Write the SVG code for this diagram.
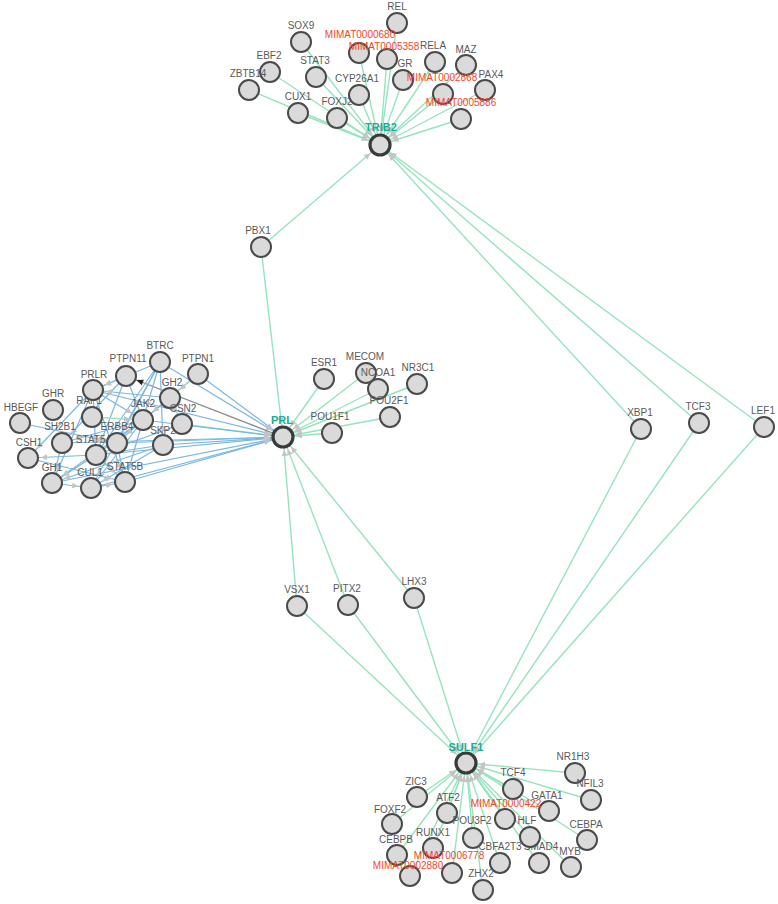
<svg xmlns="http://www.w3.org/2000/svg" width="778" height="904" viewBox="0 0 778 904">
<style>
.e{stroke:#96e4bd;stroke-width:1.4;fill:none;marker-end:url(#ag)}
.b{stroke:#7ab8e0;stroke-width:1.2;fill:none;marker-end:url(#ag)}
.g{stroke:#8c8c8c;stroke-width:1.3;fill:none;marker-end:url(#ad)}
.n circle{fill:#dadada;stroke:#4a4a4a;stroke-width:2}
.h circle{fill:#dadada;stroke:#3a3a3a;stroke-width:3.2}
text{font-family:"Liberation Sans",Arial,sans-serif;font-size:10px;fill:#5a5a5a;text-anchor:middle}
.r text{fill:#f0462a}
.h text{fill:#17b096;font-weight:bold;font-size:11px}
</style>
<defs>
<marker id="ag" markerUnits="userSpaceOnUse" viewBox="-24 -6 24 12" markerWidth="24" markerHeight="12" refX="0" refY="0" orient="auto"><path d="M-19,-3 L-13,0 L-19,3 z" fill="#c4c4c4"/></marker>
<marker id="ad" markerUnits="userSpaceOnUse" viewBox="-24 -6 24 12" markerWidth="24" markerHeight="12" refX="0" refY="0" orient="auto"><path d="M-18,-3 L-11,0 L-18,3 z" fill="#222"/></marker>
</defs>
<g id="connectors">
<line class="e" x1="301" y1="42" x2="380" y2="145"/>
<line class="e" x1="270" y1="72" x2="380" y2="145"/>
<line class="e" x1="249" y1="90" x2="380" y2="145"/>
<line class="e" x1="316" y1="77" x2="380" y2="145"/>
<line class="e" x1="298" y1="113" x2="380" y2="145"/>
<line class="e" x1="337" y1="118" x2="380" y2="145"/>
<line class="e" x1="359" y1="95" x2="380" y2="145"/>
<line class="e" x1="359" y1="53" x2="380" y2="145"/>
<line class="e" x1="387" y1="59" x2="380" y2="145"/>
<line class="e" x1="397" y1="23" x2="380" y2="145"/>
<line class="e" x1="403" y1="80" x2="380" y2="145"/>
<line class="e" x1="435" y1="62" x2="380" y2="145"/>
<line class="e" x1="466" y1="65" x2="380" y2="145"/>
<line class="e" x1="443" y1="94" x2="380" y2="145"/>
<line class="e" x1="485" y1="90" x2="380" y2="145"/>
<line class="e" x1="461" y1="119" x2="380" y2="145"/>
<line class="e" x1="261" y1="247" x2="380" y2="145"/>
<line class="e" x1="641" y1="429" x2="380" y2="145"/>
<line class="e" x1="699" y1="423" x2="380" y2="145"/>
<line class="e" x1="764" y1="427" x2="380" y2="145"/>
<line class="e" x1="261" y1="247" x2="283" y2="437"/>
<line class="e" x1="324" y1="379" x2="283" y2="437"/>
<line class="e" x1="366" y1="373" x2="283" y2="437"/>
<line class="e" x1="378" y1="389" x2="283" y2="437"/>
<line class="e" x1="417" y1="384" x2="283" y2="437"/>
<line class="e" x1="390" y1="417" x2="283" y2="437"/>
<line class="e" x1="332" y1="433" x2="283" y2="437"/>
<line class="e" x1="297" y1="606" x2="283" y2="437"/>
<line class="e" x1="348" y1="605" x2="283" y2="437"/>
<line class="e" x1="414" y1="598" x2="283" y2="437"/>
<line class="e" x1="182" y1="424" x2="283" y2="437"/>
<line class="b" x1="198" y1="374" x2="283" y2="437"/>
<line class="b" x1="160" y1="362" x2="283" y2="437"/>
<line class="b" x1="93" y1="390" x2="283" y2="437"/>
<line class="b" x1="143" y1="420" x2="283" y2="437"/>
<line class="b" x1="163" y1="445" x2="283" y2="437"/>
<line class="b" x1="117" y1="443" x2="283" y2="437"/>
<line class="b" x1="96" y1="455" x2="283" y2="437"/>
<line class="b" x1="125" y1="482" x2="283" y2="437"/>
<line class="b" x1="62" y1="443" x2="283" y2="437"/>
<line class="b" x1="91" y1="488" x2="283" y2="437"/>
<line class="b" x1="52" y1="483" x2="283" y2="437"/>
<line class="g" x1="283" y1="437" x2="126" y2="376"/>
<line class="b" x1="126" y1="376" x2="93" y2="390"/>
<line class="b" x1="126" y1="376" x2="143" y2="420"/>
<line class="b" x1="126" y1="376" x2="96" y2="455"/>
<line class="b" x1="126" y1="376" x2="62" y2="443"/>
<line class="b" x1="160" y1="362" x2="93" y2="390"/>
<line class="b" x1="160" y1="362" x2="143" y2="420"/>
<line class="b" x1="160" y1="362" x2="96" y2="455"/>
<line class="b" x1="160" y1="362" x2="163" y2="445"/>
<line class="b" x1="160" y1="362" x2="91" y2="488"/>
<line class="b" x1="160" y1="362" x2="117" y2="443"/>
<line class="b" x1="93" y1="390" x2="143" y2="420"/>
<line class="b" x1="93" y1="390" x2="96" y2="455"/>
<line class="b" x1="93" y1="390" x2="125" y2="482"/>
<line class="b" x1="93" y1="390" x2="52" y2="483"/>
<line class="b" x1="93" y1="390" x2="28" y2="458"/>
<line class="b" x1="143" y1="420" x2="96" y2="455"/>
<line class="b" x1="143" y1="420" x2="125" y2="482"/>
<line class="b" x1="143" y1="420" x2="62" y2="443"/>
<line class="b" x1="143" y1="420" x2="52" y2="483"/>
<line class="b" x1="143" y1="420" x2="117" y2="443"/>
<line class="b" x1="143" y1="420" x2="91" y2="488"/>
<line class="b" x1="170" y1="398" x2="143" y2="420"/>
<line class="b" x1="170" y1="398" x2="93" y2="390"/>
<line class="b" x1="163" y1="445" x2="91" y2="488"/>
<line class="b" x1="163" y1="445" x2="96" y2="455"/>
<line class="b" x1="163" y1="445" x2="52" y2="483"/>
<line class="b" x1="96" y1="455" x2="125" y2="482"/>
<line class="b" x1="96" y1="455" x2="52" y2="483"/>
<line class="b" x1="96" y1="455" x2="28" y2="458"/>
<line class="b" x1="62" y1="443" x2="52" y2="483"/>
<line class="b" x1="20" y1="423" x2="117" y2="443"/>
<line class="b" x1="117" y1="443" x2="125" y2="482"/>
<line class="b" x1="28" y1="458" x2="125" y2="482"/>
<line class="b" x1="52" y1="483" x2="91" y2="488"/>
<line class="b" x1="91" y1="488" x2="125" y2="482"/>
<line class="b" x1="182" y1="424" x2="96" y2="455"/>
<line class="b" x1="198" y1="374" x2="143" y2="420"/>
<line class="e" x1="198" y1="374" x2="170" y2="398"/>
<line class="e" x1="92" y1="417" x2="143" y2="420"/>
<line class="e" x1="170" y1="398" x2="182" y2="424"/>
<line class="e" x1="641" y1="429" x2="466" y2="763"/>
<line class="e" x1="699" y1="423" x2="466" y2="763"/>
<line class="e" x1="764" y1="427" x2="466" y2="763"/>
<line class="e" x1="297" y1="606" x2="466" y2="763"/>
<line class="e" x1="348" y1="605" x2="466" y2="763"/>
<line class="e" x1="414" y1="598" x2="466" y2="763"/>
<line class="e" x1="417" y1="797" x2="466" y2="763"/>
<line class="e" x1="392" y1="824" x2="466" y2="763"/>
<line class="e" x1="447" y1="813" x2="466" y2="763"/>
<line class="e" x1="433" y1="848" x2="466" y2="763"/>
<line class="e" x1="397" y1="855" x2="466" y2="763"/>
<line class="e" x1="410" y1="876" x2="466" y2="763"/>
<line class="e" x1="452" y1="873" x2="466" y2="763"/>
<line class="e" x1="473" y1="838" x2="466" y2="763"/>
<line class="e" x1="505" y1="819" x2="466" y2="763"/>
<line class="e" x1="513" y1="789" x2="466" y2="763"/>
<line class="e" x1="575" y1="773" x2="466" y2="763"/>
<line class="e" x1="591" y1="800" x2="466" y2="763"/>
<line class="e" x1="549" y1="811" x2="466" y2="763"/>
<line class="e" x1="530" y1="837" x2="466" y2="763"/>
<line class="e" x1="587" y1="840" x2="466" y2="763"/>
<line class="e" x1="500" y1="863" x2="466" y2="763"/>
<line class="e" x1="539" y1="863" x2="466" y2="763"/>
<line class="e" x1="571" y1="867" x2="466" y2="763"/>
<line class="e" x1="483" y1="890" x2="466" y2="763"/>
</g>
<g id="nodes">
<g id="n-SOX9" class="n"><circle cx="301" cy="42" r="10"/><text x="301" y="29">SOX9</text></g>
<g id="n-EBF2" class="n"><circle cx="270" cy="72" r="10"/><text x="269" y="59">EBF2</text></g>
<g id="n-ZBTB14" class="n"><circle cx="249" cy="90" r="10"/><text x="248" y="77">ZBTB14</text></g>
<g id="n-STAT3" class="n"><circle cx="316" cy="77" r="10"/><text x="315" y="64">STAT3</text></g>
<g id="n-CUX1" class="n"><circle cx="298" cy="113" r="10"/><text x="298" y="100">CUX1</text></g>
<g id="n-FOXJ2" class="n"><circle cx="337" cy="118" r="10"/><text x="337" y="105">FOXJ2</text></g>
<g id="n-CYP26A1" class="n"><circle cx="359" cy="95" r="10"/><text x="357" y="82">CYP26A1</text></g>
<g id="n-REL" class="n"><circle cx="397" cy="23" r="10"/><text x="397" y="10">REL</text></g>
<g id="n-MIMAT0000680" class="n r"><circle cx="359" cy="53" r="10"/><text x="360" y="38">MIMAT0000680</text></g>
<g id="n-MIMAT0005358" class="n r"><circle cx="387" cy="59" r="10"/><text x="384" y="49.5">MIMAT0005358</text></g>
<g id="n-GR" class="n"><circle cx="403" cy="80" r="10"/><text x="405" y="67">GR</text></g>
<g id="n-RELA" class="n"><circle cx="435" cy="62" r="10"/><text x="433" y="49">RELA</text></g>
<g id="n-MAZ" class="n"><circle cx="466" cy="65" r="10"/><text x="466" y="53">MAZ</text></g>
<g id="n-PAX4" class="n"><circle cx="485" cy="90" r="10"/><text x="491" y="78">PAX4</text></g>
<g id="n-MIMAT0002868" class="n r"><circle cx="443" cy="94" r="10"/><text x="442" y="81">MIMAT0002868</text></g>
<g id="n-MIMAT0005886" class="n r"><circle cx="461" cy="119" r="10"/><text x="461" y="106">MIMAT0005886</text></g>
<g id="n-TRIB2" class="h"><circle cx="380" cy="145" r="10"/><text x="381" y="131">TRIB2</text></g>
<g id="n-PBX1" class="n"><circle cx="261" cy="247" r="10"/><text x="258" y="234">PBX1</text></g>
<g id="n-XBP1" class="n"><circle cx="641" cy="429" r="10"/><text x="640" y="416">XBP1</text></g>
<g id="n-TCF3" class="n"><circle cx="699" cy="423" r="10"/><text x="698" y="410">TCF3</text></g>
<g id="n-LEF1" class="n"><circle cx="764" cy="427" r="10"/><text x="763" y="414">LEF1</text></g>
<g id="n-VSX1" class="n"><circle cx="297" cy="606" r="10"/><text x="297" y="593">VSX1</text></g>
<g id="n-PITX2" class="n"><circle cx="348" cy="605" r="10"/><text x="347" y="592">PITX2</text></g>
<g id="n-LHX3" class="n"><circle cx="414" cy="598" r="10"/><text x="414" y="585">LHX3</text></g>
<g id="n-ESR1" class="n"><circle cx="324" cy="379" r="10"/><text x="324" y="366">ESR1</text></g>
<g id="n-MECOM" class="n"><circle cx="366" cy="373" r="10"/><text x="365" y="360">MECOM</text></g>
<g id="n-NCOA1" class="n"><circle cx="378" cy="389" r="10"/><text x="378" y="376">NCOA1</text></g>
<g id="n-NR3C1" class="n"><circle cx="417" cy="384" r="10"/><text x="418" y="371">NR3C1</text></g>
<g id="n-POU2F1" class="n"><circle cx="390" cy="417" r="10"/><text x="389" y="404">POU2F1</text></g>
<g id="n-POU1F1" class="n"><circle cx="332" cy="433" r="10"/><text x="330" y="420">POU1F1</text></g>
<g id="n-PRL" class="h"><circle cx="283" cy="437" r="10"/><text x="282" y="424">PRL</text></g>
<g id="n-BTRC" class="n"><circle cx="160" cy="362" r="10"/><text x="160" y="349">BTRC</text></g>
<g id="n-PTPN11" class="n"><circle cx="126" cy="376" r="10"/><text x="128" y="362">PTPN11</text></g>
<g id="n-PTPN1" class="n"><circle cx="198" cy="374" r="10"/><text x="198" y="362">PTPN1</text></g>
<g id="n-GHR" class="n"><circle cx="53" cy="410" r="10"/><text x="53" y="397">GHR</text></g>
<g id="n-HBEGF" class="n"><circle cx="20" cy="423" r="10"/><text x="21" y="411">HBEGF</text></g>
<g id="n-RAF1" class="n"><circle cx="92" cy="417" r="10"/><text x="89" y="404">RAF1</text></g>
<g id="n-PRLR" class="n"><circle cx="93" cy="390" r="10"/><text x="94" y="378">PRLR</text></g>
<g id="n-GH2" class="n"><circle cx="170" cy="398" r="10"/><text x="172" y="386">GH2</text></g>
<g id="n-SKP2" class="n"><circle cx="163" cy="445" r="10"/><text x="163" y="434">SKP2</text></g>
<g id="n-CSN2" class="n"><circle cx="182" cy="424" r="10"/><text x="183" y="412">CSN2</text></g>
<g id="n-JAK2" class="n"><circle cx="143" cy="420" r="10"/><text x="143" y="407">JAK2</text></g>
<g id="n-SH2B1" class="n"><circle cx="62" cy="443" r="10"/><text x="60" y="430">SH2B1</text></g>
<g id="n-CSH1" class="n"><circle cx="28" cy="458" r="10"/><text x="29" y="446">CSH1</text></g>
<g id="n-STAT5A" class="n"><circle cx="96" cy="455" r="10"/><text x="94" y="443">STAT5A</text></g>
<g id="n-ERBB4" class="n"><circle cx="117" cy="443" r="10"/><text x="117" y="430">ERBB4</text></g>
<g id="n-GH1" class="n"><circle cx="52" cy="483" r="10"/><text x="52" y="471">GH1</text></g>
<g id="n-CUL1" class="n"><circle cx="91" cy="488" r="10"/><text x="90" y="476">CUL1</text></g>
<g id="n-STAT5B" class="n"><circle cx="125" cy="482" r="10"/><text x="125" y="470">STAT5B</text></g>
<g id="n-SULF1" class="h"><circle cx="466" cy="763" r="10"/><text x="466" y="751">SULF1</text></g>
<g id="n-NR1H3" class="n"><circle cx="575" cy="773" r="10"/><text x="573" y="760">NR1H3</text></g>
<g id="n-NFIL3" class="n"><circle cx="591" cy="800" r="10"/><text x="590" y="787">NFIL3</text></g>
<g id="n-TCF4" class="n"><circle cx="513" cy="789" r="10"/><text x="513" y="776">TCF4</text></g>
<g id="n-ZIC3" class="n"><circle cx="417" cy="797" r="10"/><text x="416" y="785">ZIC3</text></g>
<g id="n-GATA1" class="n"><circle cx="549" cy="811" r="10"/><text x="547" y="799">GATA1</text></g>
<g id="n-ATF2" class="n"><circle cx="447" cy="813" r="10"/><text x="448" y="801">ATF2</text></g>
<g id="n-MIMAT0000422" class="n r"><circle cx="505" cy="819" r="10"/><text x="506" y="807">MIMAT0000422</text></g>
<g id="n-FOXF2" class="n"><circle cx="392" cy="824" r="10"/><text x="390" y="813">FOXF2</text></g>
<g id="n-POU3F2" class="n"><circle cx="473" cy="838" r="10"/><text x="472" y="824">POU3F2</text></g>
<g id="n-SMAD4" class="n"><circle cx="539" cy="863" r="10"/><text x="541" y="850">SMAD4</text></g>
<g id="n-HLF" class="n"><circle cx="530" cy="837" r="10"/><text x="527" y="824">HLF</text></g>
<g id="n-CEBPA" class="n"><circle cx="587" cy="840" r="10"/><text x="586" y="828">CEBPA</text></g>
<g id="n-RUNX1" class="n"><circle cx="433" cy="848" r="10"/><text x="433" y="836">RUNX1</text></g>
<g id="n-CEBPB" class="n"><circle cx="397" cy="855" r="10"/><text x="396" y="843">CEBPB</text></g>
<g id="n-CBFA2T3" class="n"><circle cx="500" cy="863" r="10"/><text x="500" y="849.5">CBFA2T3</text></g>
<g id="n-MYB" class="n"><circle cx="571" cy="867" r="10"/><text x="570" y="855">MYB</text></g>
<g id="n-MIMAT0002880" class="n r"><circle cx="410" cy="876" r="10"/><text x="408" y="869">MIMAT0002880</text></g>
<g id="n-MIMAT0006778" class="n r"><circle cx="452" cy="873" r="10"/><text x="449" y="859">MIMAT0006778</text></g>
<g id="n-ZHX2" class="n"><circle cx="483" cy="890" r="10"/><text x="481" y="877">ZHX2</text></g>
</g>
</svg>
